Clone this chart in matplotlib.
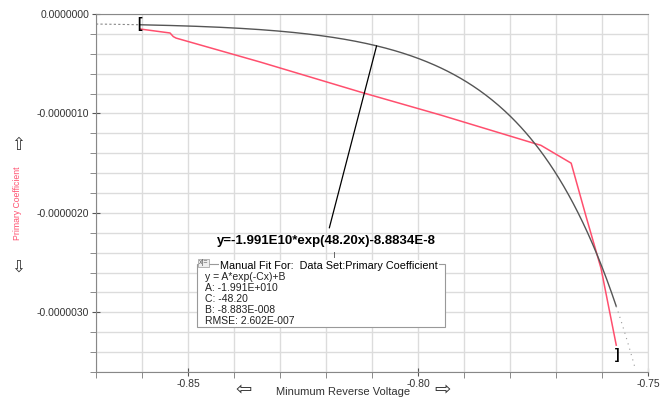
import numpy as np
import matplotlib.pyplot as plt
from matplotlib.ticker import MultipleLocator, FuncFormatter

plt.rcParams.update({'font.family': ['Liberation Sans', 'DejaVu Sans']})
plt.rcParams.update({'font.size': 7.5})

# measured data set: Primary Coefficient vs minimum reverse voltage
voltage = [-0.8604, -0.8539, -0.8532, -0.8526, -0.8343, -0.8125, -0.7950,
           -0.7748, -0.7733, -0.7667, -0.7635, -0.7602, -0.7569]
primary_coeff = [-0.151e-6, -0.191e-6, -0.227e-6, -0.242e-6, -0.483e-6,
                 -0.785e-6, -1.017e-6, -1.300e-6, -1.320e-6, -1.500e-6,
                 -2.030e-6, -2.560e-6, -3.330e-6]

# manual fit y = A*exp(-C x) + B
fit_A = -1.991e10
fit_C = -48.20
fit_B = -8.8834e-8
fit_label = "y=-1.991E10*exp(48.20x)-8.8834E-8"
fit_box = ["y = A*exp(-Cx)+B",
           "A: -1.991E+010",
           "C: -48.20",
           "B: -8.883E-008",
           "RMSE: 2.602E-007"]
annot_x = -0.809

red = '#ff4f6e'
grey = '#555555'


def fit(x):
    return fit_A * np.exp(-fit_C * x) + fit_B


fig = plt.figure(figsize=(6.67, 4.0), dpi=100)
ax = fig.add_axes([0.1439, 0.07, 0.8276, 0.895])

ax.set_xlim(-0.87, -0.75)
ax.set_ylim(-3.6e-6, 0)

# grid and ticks
ax.xaxis.set_major_locator(MultipleLocator(0.05))
ax.xaxis.set_minor_locator(MultipleLocator(0.01))
ax.yaxis.set_major_locator(MultipleLocator(1e-6))
ax.yaxis.set_minor_locator(MultipleLocator(0.2e-6))
ax.grid(True, which='both', color='#dcdcdc', lw=1.0)
ax.set_axisbelow(True)
ax.xaxis.set_major_formatter(FuncFormatter(lambda v, p: f"{v:.2f}"))
ax.yaxis.set_major_formatter(
    FuncFormatter(lambda v, p: "0.0000000" if abs(v) < 1e-12 else f"{v:.7f}"))
ax.tick_params(which='major', length=6, direction='inout', color='#555555',
               labelcolor='#333333', labelsize=7.5, pad=2)
ax.tick_params(which='minor', length=4, direction='out', color='#777777')
for s in ['left', 'bottom', 'top']:
    ax.spines[s].set_color('#888888')
ax.spines['right'].set_color('#dddddd')

# data
ax.plot(voltage, primary_coeff, color=red, lw=1.1)

# fit curve over the data range, extrapolated parts dotted
x0, x1 = voltage[0], voltage[-1]
xs = np.linspace(x0, x1, 300)
ax.plot(xs, fit(xs), color=grey, lw=1.0)
xl = np.linspace(-0.87, x0, 20)
ax.plot(xl, fit(xl), color='#888888', lw=0.8, ls=(0, (2, 2)))
xr = np.linspace(x1, -0.7527, 20)
ax.plot(xr, fit(xr), color='#999999', lw=0.8, ls=(0, (1, 4)))

# range brackets
ax.text(x0 + 0.0003, primary_coeff[0] + 0.05e-6, "[", ha='right',
        va='center', fontsize=10, fontweight='bold', color='black')
ax.text(x1 - 0.0002, primary_coeff[-1] - 0.1e-6, "]", ha='left',
        va='center', fontsize=10, fontweight='bold', color='black')

# annotation pointing at the fit curve
ax.annotate(fit_label, xy=(annot_x, fit(annot_x)), xytext=(-0.8200, -2.28e-6),
            ha='center', va='center', fontsize=9.5, fontweight='bold',
            arrowprops=dict(arrowstyle='-', color='black', lw=0.9,
                            shrinkA=3, shrinkB=0))
ax.plot([-0.8183, -0.8183], [-2.39e-6, -2.44e-6], color='#666666', lw=0.7)

# fit info box
box_l, box_r = 197, 445
box_t, box_b = 264, 327
fig.patches.append(plt.Rectangle((box_l / 667, 1 - box_b / 400),
                                 (box_r - box_l) / 667, (box_b - box_t) / 400,
                                 transform=fig.transFigure, fc='white',
                                 ec='#999999', lw=0.8, zorder=5))
fig.text(199 / 667, 1 - 263 / 400, "x|=", fontsize=5, color='#555555',
         va='center', zorder=6,
         bbox=dict(boxstyle='square,pad=0.1', fc='#eeeeee', ec='#999999',
                   lw=0.5))
fig.text(220 / 667, 1 - 266 / 400,
         "Manual Fit For:  Data Set:Primary Coefficient",
         fontsize=7.8, va='center', zorder=6,
         bbox=dict(boxstyle='square,pad=0.1', fc='white', ec='none'))
for i, line in enumerate(fit_box):
    fig.text(205 / 667, 1 - (277.5 + i * 10.8) / 400, line, fontsize=7.5,
             va='center', color='#222222', zorder=6)

# axis labels with scroll arrows
fig.text(18 / 667, 1 - 203 / 400, "Primary Coefficient", rotation=90,
         color=red, fontsize=6.2, ha='center', va='center')
fig.text(18 / 667, 1 - 145 / 400, "\u21e7", fontsize=12, ha='center',
         va='center', family='DejaVu Sans', color='#333333')
fig.text(18 / 667, 1 - 267 / 400, "\u21e9", fontsize=12, ha='center',
         va='center', family='DejaVu Sans', color='#333333')
fig.text(343 / 667, 1 - 392 / 400, "Minumum Reverse Voltage", fontsize=8,
         ha='center', va='center', color='#333333')
fig.text(244 / 667, 1 - 390 / 400, "\u21e6", fontsize=14, ha='center',
         va='center', family='DejaVu Sans', color='#333333')
fig.text(443 / 667, 1 - 390 / 400, "\u21e8", fontsize=14, ha='center',
         va='center', family='DejaVu Sans', color='#333333')

fig.savefig('out.png', dpi=100)
